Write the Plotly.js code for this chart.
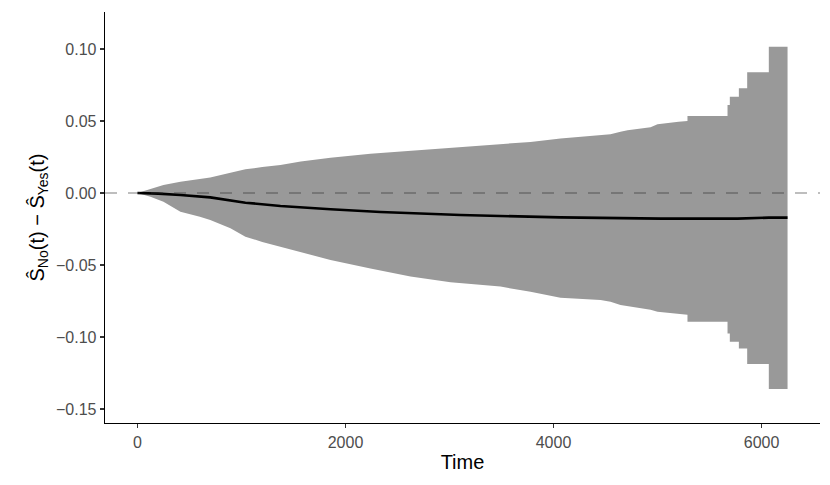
<!DOCTYPE html>
<html>
<head>
<meta charset="utf-8">
<script src="https://cdn.plot.ly/plotly-3.0.1.min.js"></script>
<style>html,body{margin:0;padding:0;background:#fff;}#chart{width:830px;height:485px;}</style>
</head>
<body>
<div id="chart"></div>
<script>
// Confidence band; repeated times mark the vertical steps of the step function
const bandTime  = [0, 125, 250, 413, 600, 700, 894, 1038, 1200, 1375, 1570, 1856, 2240, 2625, 3010, 3490, 3779, 4067, 4452, 4548, 4644, 4712, 4933, 5000, 5202, 5288, 5288, 5673, 5673, 5695, 5695, 5782, 5782, 5862, 5862, 6070, 6070, 6250, 6250];
const bandUpper = [0, 0.003, 0.0055, 0.0078, 0.0095, 0.0108, 0.014, 0.0165, 0.018, 0.0195, 0.0218, 0.0245, 0.0272, 0.0293, 0.031, 0.0338, 0.0355, 0.0378, 0.0403, 0.0408, 0.0426, 0.0435, 0.0456, 0.0477, 0.0495, 0.05, 0.0535, 0.0535, 0.0611, 0.0611, 0.0669, 0.0669, 0.0727, 0.0727, 0.0838, 0.0838, 0.1016, 0.1016, 0.1127];
const bandLower = [0, -0.0026, -0.006, -0.013, -0.0165, -0.0188, -0.0245, -0.0303, -0.034, -0.0373, -0.0415, -0.0465, -0.0525, -0.058, -0.062, -0.065, -0.0685, -0.0727, -0.0743, -0.0755, -0.0778, -0.0785, -0.081, -0.0824, -0.084, -0.0845, -0.0894, -0.0894, -0.0975, -0.0975, -0.1032, -0.1032, -0.1079, -0.1079, -0.1188, -0.1188, -0.1361, -0.1361, -0.1467];

// Estimated difference in survival
const estTime = [0, 200, 413, 700, 1038, 1375, 1856, 2144, 2337, 3106, 4067, 5029, 5769, 6070, 6250];
const estDiff = [0, -0.0004, -0.0014, -0.003, -0.0067, -0.009, -0.0113, -0.0127, -0.0132, -0.0153, -0.0169, -0.0178, -0.0178, -0.0171, -0.0171];

const xTicks = [0, 2000, 4000, 6000];
const yTicks = [-0.15, -0.10, -0.05, 0.00, 0.05, 0.10];
const yTickText = ['\u22120.15', '\u22120.10', '\u22120.05', '0.00', '0.05', '0.10'];

const traces = [
  {x: bandTime, y: bandLower, type: 'scatter', mode: 'lines', line: {width: 0}, hoverinfo: 'skip', showlegend: false},
  {x: bandTime, y: bandUpper, type: 'scatter', mode: 'lines', line: {width: 0}, fill: 'tonexty', fillcolor: '#999999', hoverinfo: 'skip', showlegend: false},
  {x: estTime, y: estDiff, type: 'scatter', mode: 'lines', line: {color: '#000000', width: 2.6}, showlegend: false}
];

const axisFont = {family: 'Liberation Sans, Arial, sans-serif', size: 16, color: '#4d4d4d'};
const titleFont = {family: 'Liberation Sans, Arial, sans-serif', size: 20, color: '#000000'};

const layout = {
  width: 830, height: 485,
  margin: {l: 105, r: 10, t: 12, b: 62},
  paper_bgcolor: '#ffffff', plot_bgcolor: '#ffffff',
  showlegend: false,
  xaxis: {
    range: [-312, 6562], tickvals: xTicks, ticktext: xTicks.map(String),
    showgrid: false, zeroline: false, showline: true, linecolor: '#000000', linewidth: 1.3,
    ticks: 'outside', ticklen: 4, tickwidth: 1.1, tickcolor: '#333333',
    tickfont: axisFont,
    title: {text: 'Time', font: titleFont, standoff: 5}
  },
  yaxis: {
    range: [-0.1597, 0.1257], tickvals: yTicks, ticktext: yTickText,
    showgrid: false, zeroline: false, showline: true, linecolor: '#000000', linewidth: 1.3,
    ticks: 'outside', ticklen: 4, tickwidth: 1.1, tickcolor: '#333333',
    tickfont: axisFont,
    title: {text: '\u015C<sub>No</sub>(t) \u2212 \u015C<sub>Yes</sub>(t)', font: titleFont, standoff: 6}
  },
  shapes: [
    {type: 'line', xref: 'paper', yref: 'y', x0: 0, x1: 1, y0: 0, y1: 0,
     line: {color: 'rgba(40,40,40,0.3)', width: 1.8, dash: '12px,11px'}, layer: 'above'}
  ]
};

Plotly.newPlot('chart', traces, layout, {displayModeBar: false, staticPlot: true});
</script>
</body>
</html>
